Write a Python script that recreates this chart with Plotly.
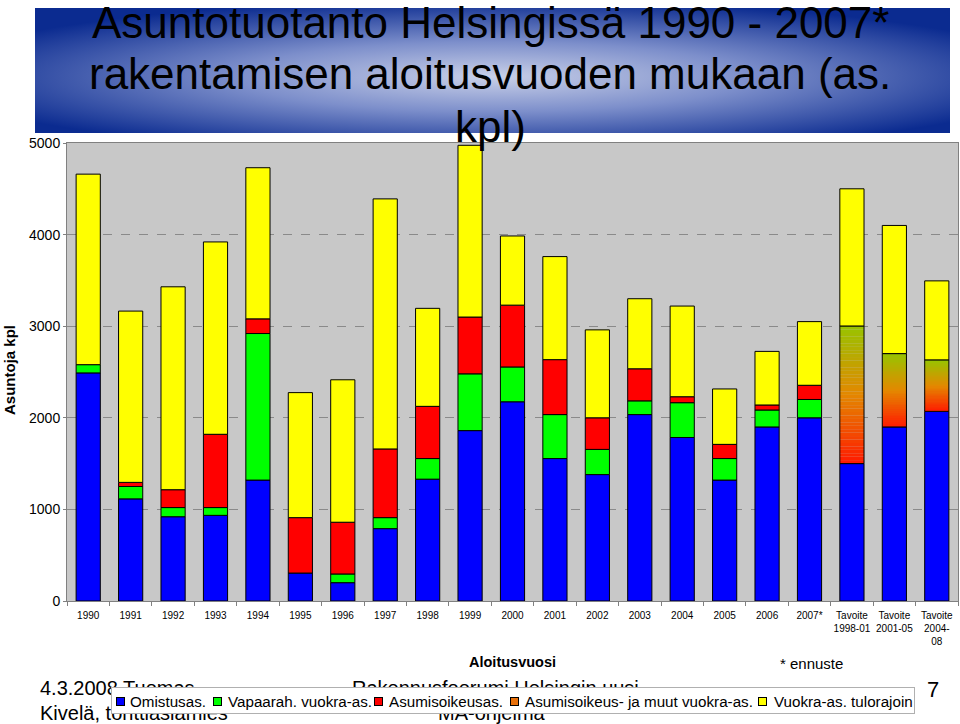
import base64
import numpy as np
import plotly.graph_objects as go

# ---------------- data ----------------
categories = ["1990", "1991", "1992", "1993", "1994", "1995", "1996", "1997", "1998",
              "1999", "2000", "2001", "2002", "2003", "2004", "2005", "2006", "2007*",
              "Tavoite 1998-01", "Tavoite 2001-05", "Tavoite 2004-08"]
tick_labels = ["1990", "1991", "1992", "1993", "1994", "1995", "1996", "1997", "1998",
               "1999", "2000", "2001", "2002", "2003", "2004", "2005", "2006", "2007*",
               "Tavoite<br>1998-01", "Tavoite<br>2001-05", "Tavoite<br>2004-<br>08"]

series_names = ["Omistusas.", "Vapaarah. vuokra-as.", "Asumisoikeusas.",
                "Asumisoikeus- ja muut vuokra-as.", "Vuokra-as. tulorajoin"]

omistus = [2490, 1115, 920, 935, 1320, 305, 200, 790, 1330, 1860, 2175, 1555, 1380,
           2035, 1785, 1320, 1900, 2000, 1500, 1900, 2070]
vapaarah = [90, 135, 100, 85, 1600, 0, 95, 120, 225, 620, 380, 480, 275,
            150, 380, 235, 185, 200, 0, 0, 0]
asumisoikeus = [0, 45, 195, 800, 160, 605, 565, 750, 570, 620, 675, 600, 345,
                350, 65, 155, 55, 155, 0, 0, 0]
asoik_muut = [0, 0, 0, 0, 0, 0, 0, 0, 0, 0, 0, 0, 0,
              0, 0, 0, 0, 0, 1500, 800, 560]
tulorajoin = [2080, 1870, 2215, 2100, 1650, 1365, 1555, 2730, 1070, 1875, 755, 1125, 960,
              765, 990, 605, 585, 695, 1500, 1400, 865]

y_ticks = [0, 1000, 2000, 3000, 4000, 5000]

# ---------------- styles ----------------
C_BLUE, C_GREEN, C_RED, C_YELLOW = "#0000FF", "#00FF00", "#FF0000", "#FFFF00"
C_GRAD_LEGEND = "#E8700A"
FONT = "Liberation Sans, Arial, sans-serif"
PLOT_BG = "#C8C8C8"

# plot area in pixels
L, R, T, B = 67, 958, 143, 601
W, H = 960, 724


def px_x(x):
    return (x - L) / (R - L)


def px_y(y):
    return (B - y) / (B - T)


def nz(vals):
    return [v if v else None for v in vals]


stack = [omistus, vapaarah, asumisoikeus, asoik_muut, tulorajoin]
arr = np.array(stack, dtype=float)
bases = np.vstack([np.zeros(len(categories)), np.cumsum(arr, axis=0)[:-1]])

fig = go.Figure()
line = dict(color="black", width=1)
solid_colors = [C_BLUE, C_GREEN, C_RED, None, C_YELLOW]

for i in [0, 1, 2, 4]:
    fig.add_trace(go.Bar(x=categories, y=nz(stack[i]), base=list(bases[i]),
                         name=series_names[i],
                         marker=dict(color=solid_colors[i], line=line)))

# gradient fill for the "Asumisoikeus- ja muut vuokra-as." series
N = 40
stops = [(0.0, (255, 25, 0)), (0.5, (228, 135, 0)), (1.0, (152, 196, 0))]


def grad(t):
    for (t0, c0), (t1, c1) in zip(stops[:-1], stops[1:]):
        if t <= t1:
            f = (t - t0) / (t1 - t0)
            return "rgb(%d,%d,%d)" % tuple(round(a + (b - a) * f) for a, b in zip(c0, c1))
    return "rgb(%d,%d,%d)" % stops[-1][1]


gx, gy, gb, gc = [], [], [], []
for j, v in enumerate(asoik_muut):
    if not v:
        continue
    for k in range(N):
        gx.append(categories[j])
        gy.append(v / N * 1.02)
        gb.append(bases[3][j] + v * k / N)
        gc.append(grad((k + 0.5) / N))
fig.add_trace(go.Bar(x=gx, y=gy, base=gb, showlegend=False, hoverinfo="skip",
                     marker=dict(color=gc, line=dict(width=0))))
fig.add_trace(go.Bar(x=categories, y=nz(asoik_muut), base=list(bases[3]),
                     name=series_names[3],
                     marker=dict(color="rgba(0,0,0,0)", line=line)))

# ---------------- title banner (decorative gradient) ----------------
svg = ('<svg xmlns="http://www.w3.org/2000/svg" width="915" height="125" viewBox="0 0 915 125" '
       'preserveAspectRatio="none"><defs><radialGradient id="g" cx="0.5" cy="0.55" r="0.62">'
       '<stop offset="0" stop-color="#C9D0E8"/><stop offset="0.45" stop-color="#7D8FCB"/>'
       '<stop offset="1" stop-color="#0B2B90"/></radialGradient></defs>'
       '<rect width="915" height="125" fill="url(#g)"/></svg>')
src = "data:image/svg+xml;base64," + base64.b64encode(svg.encode()).decode()
fig.add_layout_image(dict(source=src, xref="paper", yref="paper",
                          x=px_x(35), y=px_y(8), sizex=915 / (R - L), sizey=125 / (B - T),
                          xanchor="left", yanchor="top", sizing="stretch", layer="below"))

annotations = []


def ann(text, x, y, size, xanchor="center", yanchor="middle", **kw):
    d = dict(text=text, x=px_x(x), y=px_y(y), xref="paper", yref="paper",
             xanchor=xanchor, yanchor=yanchor, showarrow=False,
             font=dict(family=FONT, size=size, color="black"))
    d.update(kw)
    annotations.append(d)


title_lines = [("Asuntotuotanto Helsingissä 1990 - 2007*", 22),
               ("rakentamisen aloitusvuoden mukaan (as.", 74),
               ("kpl)", 127)]
for txt, yc in title_lines:
    ann(txt, 490, yc, 44)

# axis titles and notes
ann("<b>Asuntoja kpl</b>", 9, 370, 15, textangle=-90)
ann("<b>Aloitusvuosi</b>", 512, 662, 14.5)
ann("* ennuste", 811, 663, 15)

# slide footer texts (partly covered by the legend box, as in the slide)
ann("4.3.2008 Tuomas", 38, 688, 20, xanchor="left")
ann("Kivelä, tonttiasiamies", 38, 713, 20, xanchor="left")
ann("Rakennusfoorumi Helsingin uusi", 495, 688, 20)
ann("MA-ohjelma", 492, 713, 20)
ann("7", 933, 689, 22)

# ---------------- legend box (drawn over the footer texts) ----------------
LX0, LX1, LY0, LY1 = 111, 915, 687, 714
ann("", (LX0 + LX1) / 2, (LY0 + LY1) / 2, 10, width=LX1 - LX0 - 2, height=LY1 - LY0 - 2,
    bgcolor="white", bordercolor="#B0B0B0", borderwidth=1, borderpad=0)
legend_sq_x = [116, 213, 374, 510, 758]
legend_txt_x = [128, 226, 387, 523, 772]
legend_colors = [C_BLUE, C_GREEN, C_RED, C_GRAD_LEGEND, C_YELLOW]
for name, sx, tx, col in zip(series_names, legend_sq_x, legend_txt_x, legend_colors):
    ann(name, tx, 701, 15.2, xanchor="left")
    ann("", sx + 4.5, 701.5, 4, width=7, height=7, bgcolor=col,
        bordercolor="black", borderwidth=1, borderpad=0)

fig.update_layout(
    width=W, height=H,
    margin=dict(l=L, r=W - R, t=T, b=H - B, pad=0),
    paper_bgcolor="white", plot_bgcolor=PLOT_BG,
    barmode="overlay", bargap=0.43,
    font=dict(family=FONT, color="black"),
    showlegend=False,
    annotations=annotations,
)
fig.update_xaxes(categoryorder="array", categoryarray=categories,
                 tickvals=categories, ticktext=tick_labels, tickangle=0,
                 tickfont=dict(family=FONT, size=10, color="black"),
                 ticklabelstandoff=5,
                 showline=True, linecolor="#808080", linewidth=1,
                 ticks="outside", tickson="boundaries", ticklen=4, tickcolor="#808080",
                 showgrid=False, mirror=True, fixedrange=True)
fig.update_yaxes(range=[0, 5000], tickvals=y_ticks,
                 tickfont=dict(family=FONT, size=14, color="black"),
                 showline=True, linecolor="#808080", linewidth=1,
                 ticks="outside", ticklen=3, tickcolor="#808080",
                 showgrid=True, gridcolor="#8A8A8A", griddash="dash", gridwidth=1,
                 zeroline=False, mirror=True, fixedrange=True)

fig.write_html("out.html", config={"displayModeBar": False},
               post_script="document.body.style.margin='0';document.body.style.overflow='hidden';")
